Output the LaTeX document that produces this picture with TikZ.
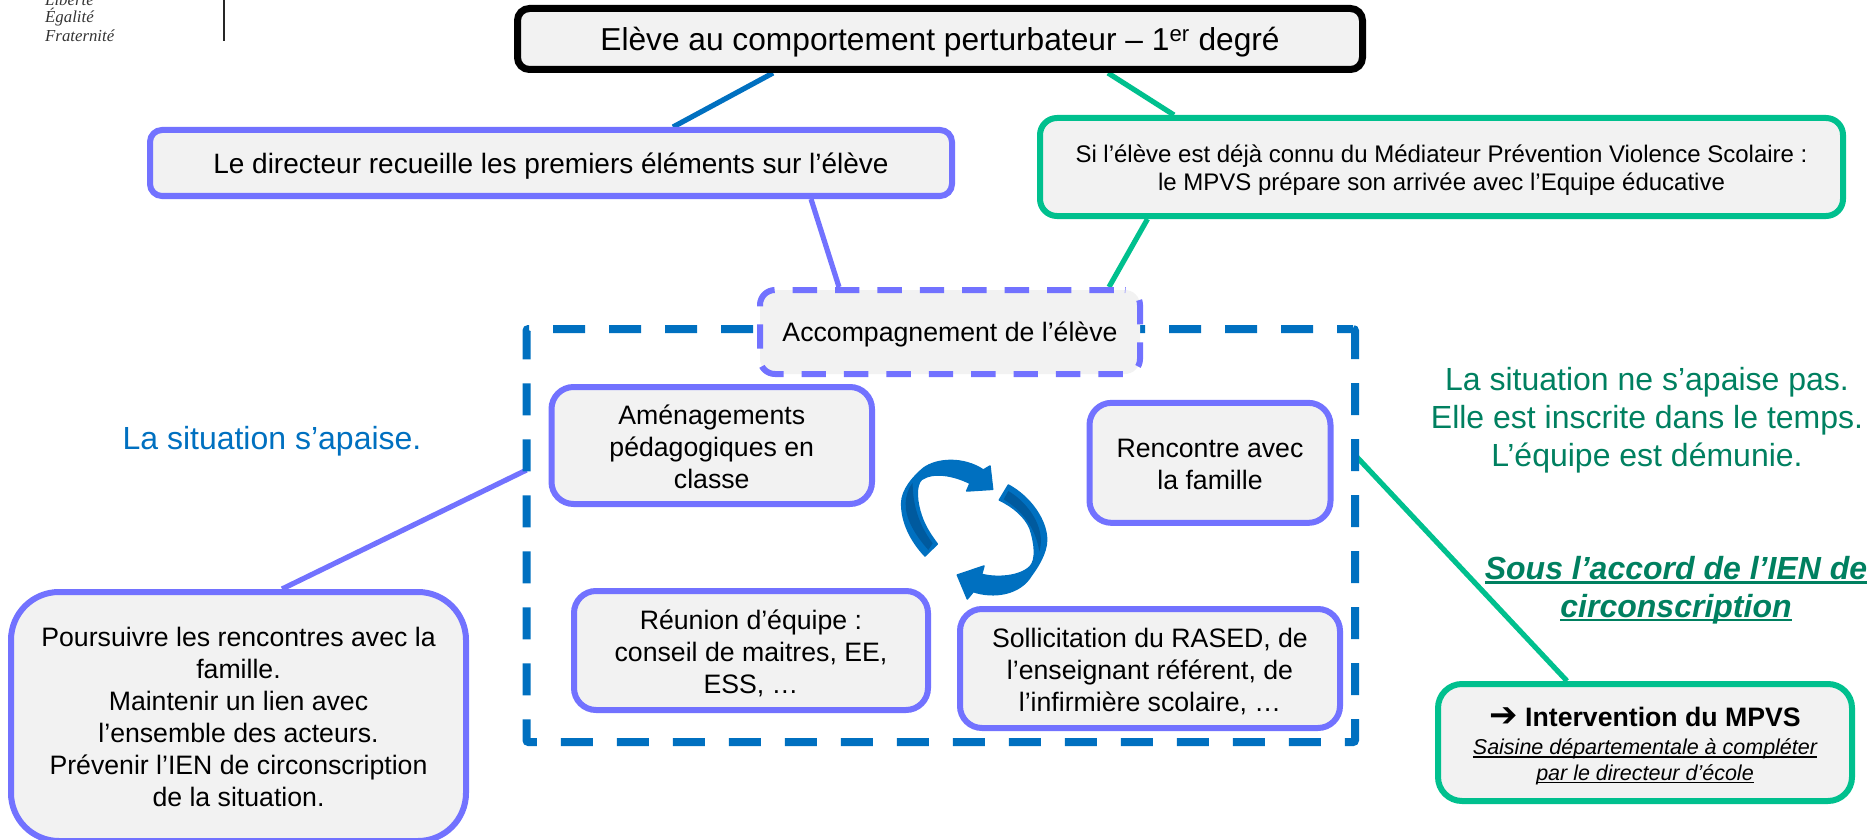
\documentclass[tikz,border=0pt]{standalone}
\usepackage{fontspec}
\setmainfont{Liberation Sans}
\newfontfamily\logofont{Liberation Serif}
\newfontfamily\arrowfont{DejaVu Sans}
\usetikzlibrary{backgrounds}
\definecolor{pviolet}{HTML}{7272FF}
\definecolor{pgreen}{HTML}{00C08E}
\definecolor{pblue}{HTML}{0070C0}
\definecolor{pdark}{HTML}{005A9E}
\definecolor{tgreen}{HTML}{008060}
\definecolor{pfill}{HTML}{F2F2F2}
\newsavebox{\ulbox}
\newcommand{\myul}[3]{\sbox{\ulbox}{#3}\usebox{\ulbox}\llap{\rule[-#1]{\wd\ulbox}{#2}}}
\newcommand{\fs}[2]{\fontsize{#1pt}{#2pt}\selectfont}
% first-line strut that lowers a centred text block by #1
\newcommand{\dn}[1]{\rule{0pt}{\dimexpr0.73em+2\dimexpr#1\relax\relax}}
\tikzset{
  x=1pt,y=-1pt,
  panel/.style={rectangle,draw,fill=pfill,inner sep=0pt,align=center,text=black},
  violetbox/.style={panel,draw=pviolet,line width=6pt},
  greenbox/.style={panel,draw=pgreen,line width=6pt},
  blackbox/.style={panel,draw=black,line width=7pt,rounded corners=12pt},
  frame/.style={rectangle,draw=pblue,line width=8pt,inner sep=0pt,outer sep=0pt,rounded corners=2pt,
     dash pattern=on 32pt off 24pt,dash phase=16pt},
  vlink/.style={draw=pviolet,line width=5.2pt},
  glink/.style={draw=pgreen,line width=5.2pt},
  blink/.style={draw=pblue,line width=5.2pt},
  lab/.style={inner sep=0pt,align=center},
}
\begin{document}
\begin{tikzpicture}
\useasboundingbox (0,0) rectangle (1875,840);
% logo
\node[lab,anchor=west,text=black!80,font=\logofont\itshape\fs{16.8}{16}] (lib) at (45,0) {Liberté};
\node[lab,anchor=west,text=black!80,font=\logofont\itshape\fs{16.8}{16}] (ega) at (45,17) {Égalité};
\node[lab,anchor=west,text=black!80,font=\logofont\itshape\fs{16.8}{16}] (fra) at (45,36) {Fraternité};
\coordinate (logoT) at (224,0);
\coordinate (logoB) at (224,41);
\draw[line width=1.5pt,black!85] (logoT) -- (logoB);
% frame
\node[frame,minimum width=828.5pt,minimum height=413pt] (cadre) at (940.75,535.5) {};
% boxes
\node[blackbox,minimum width=845pt,minimum height=61pt,font=\fs{31.7}{38}] (top) at (940,39)
  {\dn{3pt}Elève au comportement perturbateur – 1\textsuperscript{er} degré};
\node[violetbox,rounded corners=12pt,minimum width=802pt,minimum height=66pt,font=\fs{28}{32}] (dir) at (551,163)
  {\dn{3pt}Le directeur recueille les premiers éléments sur l’élève};
\node[greenbox,rounded corners=17pt,minimum width=803pt,minimum height=98pt,font=\fs{24}{28.3}] (gre) at (1441.5,167)
  {\dn{3pt}Si l’élève est déjà connu du Médiateur Prévention Violence Scolaire :\\le MPVS prépare son arrivée avec l’Equipe éducative};
\node[violetbox,rounded corners=15pt,dash pattern=on 24.4pt off 18pt,dash phase=31.2pt,minimum width=380pt,minimum height=84pt,font=\fs{26.67}{30}] (acc) at (950,332)
  {\dn{3pt}Accompagnement de l’élève};
\node[violetbox,rounded corners=22pt,minimum width=320.5pt,minimum height=117pt,font=\fs{26.67}{32}] (ame) at (711.75,445.5)
  {\dn{1pt}Aménagements\\pédagogiques en\\classe};
\node[violetbox,rounded corners=22pt,minimum width=241pt,minimum height=120pt,font=\fs{26.67}{32}] (ren) at (1210,462.85)
  {\dn{1pt}Rencontre avec\\la famille};
\node[violetbox,rounded corners=22pt,minimum width=354pt,minimum height=119pt,font=\fs{26.67}{32}] (reu) at (751,650.5)
  {\dn{3pt}Réunion d’équipe :\\conseil de maitres, EE,\\ESS, …};
\node[violetbox,rounded corners=22pt,minimum width=380pt,minimum height=119pt,font=\fs{26.67}{32}] (sol) at (1150,668.5)
  {\dn{3pt}Sollicitation du RASED, de\\l’enseignant référent, de\\l’infirmière scolaire, …};
\node[violetbox,rounded corners=48pt,minimum width=455pt,minimum height=249pt,font=\fs{26.67}{32}] (pou) at (238.5,716.5)
  {Poursuivre les rencontres avec la\\famille.\\Maintenir un lien avec\\l’ensemble des acteurs.\\Prévenir l’IEN de circonscription\\de la situation.};
\node[greenbox,rounded corners=24pt,minimum width=414pt,minimum height=117pt,font=\fs{21.5}{25.7}] (mpv) at (1645,742.5)
  {{\rule{0pt}{26.6pt}\fs{26.67}{30}{\arrowfont\bfseries\fs{34}{30}➔} \rmfamily\bfseries Intervention du MPVS}\\[2.4pt]
   \itshape\myul{2.8pt}{1.2pt}{Saisine départementale à compléter}\\
   \itshape\myul{2.8pt}{1.2pt}{par le directeur d’école}};
% free labels
\node[lab,text=pblue,font=\fs{32}{38}] (apa) at (272,441) {La situation s’apaise.};
\node[lab,text=tgreen,font=\fs{32}{38}] (nap) at (1647,420) {La situation ne s’apaise pas.\\Elle est inscrite dans le temps.\\L’équipe est démunie.};
\node[lab,text=tgreen,font=\bfseries\itshape\fs{32}{37.5}] (sou) at (1676,590)
  {\myul{4pt}{2.4pt}{Sous l’accord de l’IEN de}\\\myul{4pt}{2.4pt}{circonscription}};
% connectors
\begin{scope}[on background layer]
\draw[blink] ([xshift=-167pt]top.south) -- ([xshift=122pt]dir.north);
\draw[glink] ([xshift=168pt]top.south) -- ([xshift=-267.5pt]gre.north);
\draw[vlink] ([xshift=260pt]dir.south) -- ([xshift=-111pt]acc.north);
\draw[glink] ([xshift=-294pt]gre.south) -- ([xshift=159pt]acc.north);
\draw[vlink] ([yshift=65.5pt]cadre.west) -- ([xshift=43.5pt]pou.north);
\draw[glink] ([yshift=80.5pt]cadre.east) -- ([xshift=-78pt]mpv.north);
\end{scope}
% cycle icon
\begin{scope}[shift={(860,440)},x=0.3333pt,y=-0.3333pt]
\filldraw[pblue,line width=1.5pt,line join=round]
  (195,348) .. controls (150,300) and (125,245) .. (125,190)
  .. controls (125,150) and (160,110) .. (190,85)
  .. controls (230,55) and (310,50) .. (370,90)
  -- (390,78) -- (398,148) -- (320,153) -- (330,130)
  .. controls (280,105) and (220,95) .. (185,118)
  .. controls (165,135) and (170,190) .. (185,230)
  .. controls (195,260) and (215,290) .. (232,312) -- cycle;
\fill[pdark] (205,330) .. controls (165,285) and (135,235) .. (137,190)
  .. controls (138,165) and (145,145) .. (158,128)
  .. controls (158,170) and (165,240) .. (218,310) -- cycle;
\filldraw[pblue,line width=1.5pt,line join=round]
  (445,135) .. controls (510,170) and (560,240) .. (560,300)
  .. controls (560,340) and (530,385) .. (515,405)
  .. controls (480,465) and (400,475) .. (340,455)
  -- (322,477) -- (292,405) -- (372,378) -- (365,403)
  .. controls (410,415) and (480,410) .. (510,380)
  .. controls (530,360) and (525,310) .. (510,265)
  .. controls (495,230) and (460,200) .. (418,180) -- cycle;
\fill[pdark] (445,153) .. controls (500,185) and (560,260) .. (538,335)
  .. controls (530,280) and (500,220) .. (431,178) -- cycle;
\end{scope}
\end{tikzpicture}
\end{document}
